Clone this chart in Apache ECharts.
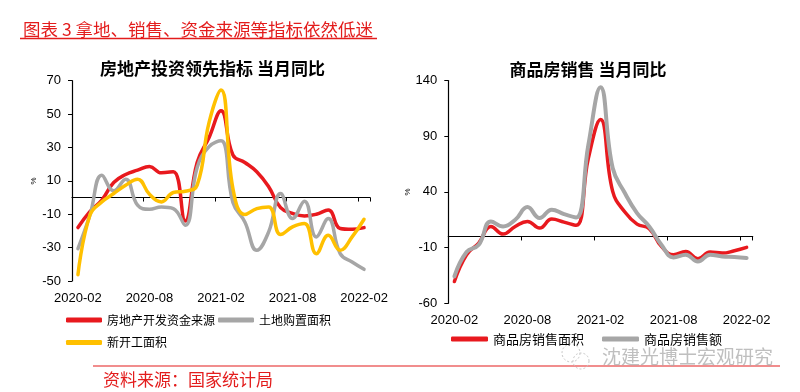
<!DOCTYPE html>
<html><head><meta charset="utf-8">
<script src="https://cdn.jsdelivr.net/npm/echarts@6.0.0/dist/echarts.min.js"></script>
<style>html,body{margin:0;padding:0;background:#fff}#c{width:800px;height:392px}</style>
</head><body><div id="c"></div>
<script>
// ---- data ----
const months = ['2020-02','2020-03','2020-04','2020-05','2020-06','2020-07','2020-08','2020-09','2020-10','2020-11','2020-12',
  '2021-01','2021-02','2021-03','2021-04','2021-05','2021-06','2021-07','2021-08','2021-09','2021-10','2021-11','2021-12',
  '2022-01','2022-02'];
const xTickLabels = ['2020-02','2020-08','2021-02','2021-08','2022-02'];
// 房地产投资领先指标 当月同比 (%)
const fundsSource = [-18, -8.5, -1.5, 9, 13.8, 16.4, 18.6, 14.8, 15.5, -14, 21, 36, 52, 25.5, 21, 15.5, 6.5, -6, -9.5, -11, -10, -7.5, -18.5, -19, -18];
const landArea    = [-30.6, -10.6, 13.4, 4, 11, -4.6, -7, -5.6, -6.6, -16.6, 18, 30.5, 34, -3, -14.6, -31.6, -20.6, 2.4, -12.6, -2.2, -23.6, -12.6, -33.6, -38.6, -43];
const newStarts   = [-46.2, -10.6, -2.6, 2.4, 7.4, 11, 2, -2.6, 3, 3.8, 7.4, 45, 64.4, 5.4, -10.2, -6.6, -5.6, -22.2, -17.6, -15.6, -33.6, -22.6, -31.6, -23.6, -13];
// 商品房销售 当月同比 (%)
const salesArea   = [-40.4, -16.4, -5.9, 9, 2.1, 9, 13.5, 7.5, 15.6, 12.9, 10, 70, 105, 40.5, 21.9, 11.1, 7, -8.9, -16.4, -13.4, -20, -14, -14.9, -12.8, -9.8];
const salesValue  = [-35.9, -14, -7.5, 13.5, 9, 15, 26.4, 16.5, 24, 20.1, 17.1, 82, 134, 61.4, 39, 21, 9, -7.4, -18.8, -16.4, -22.4, -16.4, -17.9, -18.5, -19.4];
const leftNames  = ['房地产开发资金来源', '土地购置面积', '新开工面积'];
const rightNames = ['商品房销售面积', '商品房销售额'];

// ---- styles ----
const RED = '#e8191e', GRAY = '#a6a6a6', YELLOW = '#ffc000';
const NUMFONT = '"Liberation Sans", Arial, sans-serif';
const CJK = '"Noto Sans CJK SC", sans-serif';
const showLabel = (i, v) => xTickLabels.indexOf(v) >= 0;

function xAxesFor(gridIndex) {
  return [
    { type: 'category', gridIndex, data: months, boundaryGap: true,
      axisLine: { onZero: true, lineStyle: { color: '#000', width: 1.2 } },
      axisTick: { show: true, interval: showLabel, length: 4, lineStyle: { color: '#000' } },
      axisLabel: { show: false }, splitLine: { show: false } },
    { type: 'category', gridIndex, data: months, boundaryGap: true, position: 'bottom',
      axisLine: { show: false, onZero: false }, axisTick: { show: false },
      axisLabel: { interval: showLabel, margin: 11, color: '#000', fontSize: 13, fontFamily: NUMFONT },
      splitLine: { show: false } }
  ];
}
function yAxisFor(gridIndex, min, max, interval, nameGap) {
  return { type: 'value', gridIndex, min, max, interval,
    name: '%', nameLocation: 'middle', nameRotate: 90, nameGap,
    nameTextStyle: { fontSize: 8, color: '#000', fontFamily: NUMFONT },
    axisLine: { show: true, lineStyle: { color: '#000', width: 1.2 } },
    axisTick: { show: true, length: 4, lineStyle: { color: '#000' } },
    axisLabel: { margin: 11, color: '#000', fontSize: 13, fontFamily: NUMFONT },
    splitLine: { show: false } };
}
function line(name, data, color, xi, yi, w) {
  return { name, type: 'line', data, xAxisIndex: xi, yAxisIndex: yi, smooth: 0.45,
    showSymbol: false, symbol: 'none', lineStyle: { color, width: w, cap: 'round', join: 'round' },
    itemStyle: { color }, z: 3 };
}

const option = {
  animation: false,
  backgroundColor: '#fff',
  grid: [
    { left: 72, top: 80.7, width: 298, height: 200.3 },
    { left: 448.3, top: 80.5, width: 304.4, height: 222.8 }
  ],
  xAxis: [...xAxesFor(0), ...xAxesFor(1)],
  yAxis: [ yAxisFor(0, -50, 70, 20, 34), yAxisFor(1, -60, 140, 50, 33) ],
  legend: [
    { data: leftNames.slice(0, 2), left: 66, top: 314, padding: 0, itemGap: 3,
      itemWidth: 36, itemHeight: 5, icon: 'roundRect',
      textStyle: { fontSize: 12, color: '#000', fontFamily: CJK } },
    { data: leftNames.slice(2), left: 66, top: 336.5, padding: 0,
      itemWidth: 36, itemHeight: 5, icon: 'roundRect',
      textStyle: { fontSize: 12, color: '#000', fontFamily: CJK } },
    { data: rightNames, left: 451, top: 332.5, padding: 0, itemGap: 18,
      itemWidth: 37, itemHeight: 5, icon: 'roundRect',
      textStyle: { fontSize: 13, color: '#000', fontFamily: CJK } }
  ],
  series: [
    line(leftNames[0], fundsSource, RED, 0, 0, 3.5),
    line(leftNames[1], landArea, GRAY, 0, 0, 3.5),
    line(leftNames[2], newStarts, YELLOW, 0, 0, 3.5),
    line(rightNames[0], salesArea, RED, 2, 1, 3.5),
    line(rightNames[1], salesValue, GRAY, 2, 1, 4)
  ],
  graphic: [
    { type: 'text', style: { text: '图表 3 拿地、销售、资金来源等指标依然低迷', x: 23, y: 29,
      textVerticalAlign: 'middle', font: '17.5px ' + CJK, fill: '#e31c1c' } },
    { type: 'line', shape: { x1: 20, y1: 38.5, x2: 377, y2: 38.5 }, style: { stroke: '#e31c1c', lineWidth: 1.5 } },
    { type: 'text', style: { text: '房地产投资领先指标 当月同比', x: 212.5, y: 69,
      textAlign: 'center', textVerticalAlign: 'middle', font: 'bold 17px ' + CJK, fill: '#000' } },
    { type: 'text', style: { text: '商品房销售 当月同比', x: 588, y: 70,
      textAlign: 'center', textVerticalAlign: 'middle', font: 'bold 17px ' + CJK, fill: '#000' } },
    { type: 'line', shape: { x1: 93, y1: 366, x2: 780, y2: 366 }, style: { stroke: '#e31c1c', lineWidth: 1.2 } },
    { type: 'text', style: { text: '资料来源：国家统计局', x: 103, y: 380,
      textVerticalAlign: 'middle', font: '17px ' + CJK, fill: '#e31c1c' } },
    { type: 'circle', shape: { cx: 571, cy: 353, r: 9 }, style: { fill: 'none', stroke: '#c8c8c8', lineWidth: 1, lineDash: [2, 2] } },
    { type: 'circle', shape: { cx: 581, cy: 361, r: 8 }, style: { fill: 'none', stroke: '#c8c8c8', lineWidth: 1, lineDash: [2, 2] } },
    { type: 'text', style: { text: '沈建光博士宏观研究', x: 602, y: 357,
      textVerticalAlign: 'middle', font: '19px ' + CJK, fill: 'rgba(170,170,170,0.75)' } }
  ]
};
const chart = echarts.init(document.getElementById('c'), null, { renderer: 'canvas' });
chart.setOption(option);
</script></body></html>
